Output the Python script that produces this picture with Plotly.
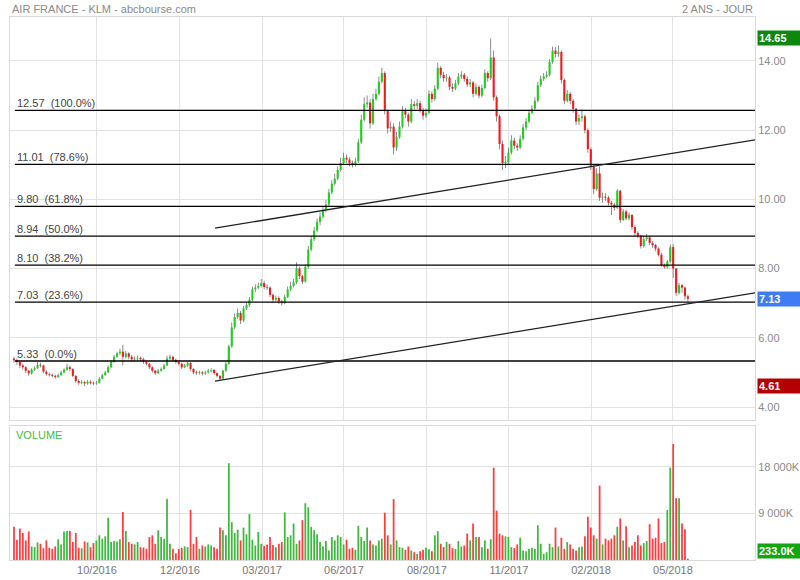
import plotly.graph_objects as go

# ---------------- data ----------------
CLOSE = [5.35, 5.30, 5.20, 5.15, 5.05, 4.97, 5.08, 5.12, 5.22, 5.20,
         5.02, 4.95, 4.93, 4.90, 4.87, 4.92, 5.00, 5.08, 5.15, 5.10,
         4.90, 4.75, 4.70, 4.72, 4.68, 4.73, 4.70, 4.68, 4.70, 4.82,
         4.92, 5.00, 5.15, 5.30, 5.45, 5.55, 5.60, 5.45, 5.55, 5.45,
         5.38, 5.40, 5.42, 5.38, 5.30, 5.25, 5.15, 5.05, 4.98, 5.05,
         5.10, 5.20, 5.40, 5.45, 5.36, 5.30, 5.25, 5.15, 5.20, 5.27,
         5.10, 5.00, 4.98, 5.00, 4.97, 5.00, 5.05, 5.07, 4.98, 4.90,
         4.82, 5.05, 5.25, 5.75, 6.30, 6.60, 6.72, 6.50, 6.85, 6.95,
         7.10, 7.40, 7.45, 7.50, 7.58, 7.47, 7.45, 7.24, 7.10, 7.15,
         7.05, 7.00, 7.18, 7.40, 7.50, 7.60, 8.00, 7.78, 7.62, 8.05,
         8.55, 8.85, 9.10, 9.35, 9.50, 9.70, 9.85, 10.20, 10.45, 10.60,
         10.85, 11.05, 11.20, 11.15, 11.05, 11.00, 11.10, 11.65, 12.30, 12.75,
         12.80, 12.20, 12.90, 13.05, 13.40, 13.65, 12.55, 12.05, 12.10, 11.50,
         11.80, 12.10, 12.55, 12.45, 12.25, 12.75, 12.70, 12.78, 12.58, 12.42,
         12.50, 13.05, 12.90, 13.20, 13.80, 13.60, 13.50, 13.52, 13.25, 13.20,
         13.35, 13.55, 13.60, 13.48, 13.32, 13.38, 13.05, 13.25, 13.00, 13.22,
         13.65, 13.50, 14.10, 12.95, 12.40, 11.60, 11.05, 11.08, 11.35, 11.70,
         11.55, 11.50, 11.75, 12.08, 12.25, 12.50, 12.62, 12.85, 13.30, 13.48,
         13.55, 13.60, 13.97, 14.30, 14.20, 14.26, 13.45, 12.85, 13.05, 12.85,
         12.62, 12.25, 12.35, 12.40, 12.00, 11.45, 10.95, 10.30, 10.75, 10.05,
         10.08, 10.05, 9.90, 9.85, 9.75, 10.25, 9.40, 9.65, 9.45, 9.55,
         9.20, 9.03, 8.95, 8.65, 8.85, 8.90, 8.74, 8.68, 8.58, 8.40,
         8.10, 8.05, 8.20, 8.62, 8.00, 7.30, 7.52, 7.45, 7.20, 7.13]

FIRST_OPEN = 5.40

HIGH = [5.45, 5.40, 5.33, 5.25, 5.18, 5.08, 5.12, 5.18, 5.30, 5.28,
        5.22, 5.06, 5.00, 4.97, 4.94, 4.96, 5.05, 5.12, 5.25, 5.20,
        5.12, 4.92, 4.80, 4.78, 4.76, 4.78, 4.77, 4.74, 4.75, 4.86,
        4.96, 5.05, 5.20, 5.35, 5.50, 5.60, 5.68, 5.80, 5.62, 5.58,
        5.50, 5.46, 5.48, 5.46, 5.42, 5.34, 5.28, 5.18, 5.08, 5.10,
        5.15, 5.25, 5.48, 5.52, 5.48, 5.40, 5.34, 5.28, 5.25, 5.32,
        5.30, 5.12, 5.05, 5.05, 5.04, 5.05, 5.10, 5.12, 5.10, 5.00,
        4.92, 5.08, 5.30, 5.80, 6.45, 6.70, 6.85, 6.78, 6.92, 7.02,
        7.18, 7.48, 7.55, 7.60, 7.70, 7.65, 7.55, 7.48, 7.28, 7.22,
        7.20, 7.10, 7.25, 7.48, 7.62, 7.70, 8.18, 8.05, 7.82, 8.12,
        8.65, 8.95, 9.20, 9.45, 9.62, 9.80, 9.98, 10.30, 10.55, 10.75,
        10.95, 11.20, 11.35, 11.30, 11.22, 11.12, 11.20, 11.75, 12.45, 12.95,
        13.00, 12.90, 13.05, 13.20, 13.55, 13.80, 13.70, 12.60, 12.25, 12.20,
        11.95, 12.25, 12.70, 12.65, 12.50, 12.90, 12.85, 12.90, 12.85, 12.65,
        12.62, 13.15, 13.12, 13.30, 13.95, 13.85, 13.68, 13.62, 13.58, 13.35,
        13.45, 13.65, 13.70, 13.65, 13.55, 13.48, 13.42, 13.35, 13.30, 13.32,
        13.75, 13.70, 14.65, 14.30, 13.00, 12.45, 11.70, 11.25, 11.50, 11.85,
        11.78, 11.62, 11.85, 12.18, 12.35, 12.60, 12.72, 12.95, 13.40, 13.58,
        13.65, 13.70, 14.05, 14.42, 14.40, 14.45, 14.30, 13.50, 13.15, 13.10,
        12.90, 12.65, 12.45, 12.60, 12.45, 12.05, 11.50, 11.00, 10.90, 10.95,
        10.20, 10.18, 10.10, 9.95, 9.90, 10.30, 10.28, 9.72, 9.70, 9.62,
        9.58, 9.25, 9.08, 8.98, 8.95, 9.00, 8.95, 8.80, 8.72, 8.62,
        8.45, 8.15, 8.25, 8.70, 8.70, 8.02, 7.58, 7.56, 7.48, 7.25]

LOW = [5.28, 5.22, 5.12, 5.08, 4.98, 4.90, 4.94, 5.04, 5.10, 5.14,
       4.98, 4.90, 4.88, 4.85, 4.82, 4.84, 4.90, 4.97, 5.05, 5.04,
       4.85, 4.70, 4.64, 4.66, 4.61, 4.64, 4.65, 4.63, 4.64, 4.68,
       4.80, 4.90, 4.98, 5.12, 5.28, 5.42, 5.50, 5.20, 5.40, 5.38,
       5.32, 5.33, 5.35, 5.32, 5.25, 5.20, 5.10, 5.00, 4.93, 4.95,
       5.02, 5.08, 5.18, 5.36, 5.30, 5.25, 5.20, 5.10, 5.12, 5.16,
       5.05, 4.95, 4.93, 4.94, 4.92, 4.93, 4.97, 5.00, 4.93, 4.85,
       4.75, 4.80, 5.02, 5.22, 5.72, 6.25, 6.55, 6.40, 6.45, 6.80,
       6.90, 7.05, 7.32, 7.40, 7.45, 7.40, 7.38, 7.18, 7.02, 7.05,
       6.98, 6.93, 6.97, 7.15, 7.35, 7.45, 7.55, 7.70, 7.55, 7.60,
       8.00, 8.50, 8.80, 9.05, 9.25, 9.45, 9.62, 9.80, 10.15, 10.40,
       10.55, 10.80, 11.00, 11.05, 10.95, 10.92, 10.95, 11.05, 11.60, 12.25,
       12.65, 12.05, 12.15, 12.85, 13.00, 13.35, 12.45, 11.90, 11.95, 11.30,
       11.40, 11.75, 12.05, 12.35, 12.10, 12.20, 12.60, 12.62, 12.50, 12.30,
       12.35, 12.45, 12.80, 12.85, 13.15, 13.50, 13.40, 13.40, 13.15, 13.10,
       13.15, 13.30, 13.48, 13.40, 13.25, 13.25, 12.95, 13.00, 12.92, 12.95,
       13.18, 13.40, 13.45, 12.85, 12.25, 11.45, 10.85, 10.90, 11.00, 11.30,
       11.45, 11.40, 11.45, 11.70, 12.00, 12.20, 12.45, 12.58, 12.80, 13.25,
       13.42, 13.50, 13.55, 13.92, 14.10, 14.12, 13.35, 12.75, 12.80, 12.75,
       12.50, 12.15, 12.15, 12.25, 11.90, 11.35, 10.85, 10.15, 10.25, 9.95,
       9.90, 9.95, 9.82, 9.55, 9.68, 9.72, 9.32, 9.38, 9.40, 9.40,
       9.12, 8.95, 8.88, 8.58, 8.60, 8.80, 8.68, 8.60, 8.50, 8.35,
       8.05, 8.00, 8.00, 8.15, 7.73, 7.20, 7.25, 7.30, 7.10, 7.05]

VOLUME_K = [6390, 3900, 6060, 5200, 3780, 5500, 2600, 2480, 3390, 3130,
            2280, 3780, 2350, 2150, 2610, 3980, 3000, 5480, 5600, 5600,
            3460, 5220, 2350, 2280, 3590, 3390, 2480, 3260, 3780, 4760,
            4110, 4560, 8150, 3460, 3650, 3590, 3980, 9260, 5600, 3460,
            3130, 3000, 3460, 2480, 2410, 2150, 4430, 4760, 3130, 5740,
            4430, 4110, 11800, 3130, 2150, 1300, 2150, 2350, 2610, 2480,
            9650, 3130, 4430, 2150, 2800, 2610, 3000, 2800, 2480, 2150,
            6260, 5740, 4760, 18650, 7300, 5220, 5870, 3780, 6260, 4960,
            8870, 3910, 2800, 5410, 3130, 2740, 3000, 4430, 2870, 2480,
            3130, 3460, 9200, 4430, 4760, 7040, 3130, 3780, 7690, 10950,
            10170, 6390, 5740, 4960, 3460, 2610, 3650, 1830, 4430, 3780,
            4760, 4430, 3000, 3910, 2150, 2350, 1960, 6590, 4430, 3650,
            6260, 3780, 3000, 2800, 3780, 4110, 9130, 4760, 3000, 11740,
            3780, 2480, 2350, 1960, 2610, 1830, 1500, 1170, 1700, 1960,
            2350, 2090, 1700, 4760, 5540, 3130, 2480, 3460, 3130, 2280,
            2150, 3650, 2610, 2800, 5090, 3780, 7040, 4430, 4430, 2480,
            3780, 2150, 4000, 17800, 9520, 5090, 4760, 4560, 4430, 2480,
            2280, 3000, 4300, 1830, 1700, 2150, 2350, 2150, 6700, 3130,
            1170, 1500, 3130, 2480, 6260, 2610, 4300, 2150, 3460, 3000,
            2150, 1830, 2480, 2610, 4560, 8350, 6260, 4760, 4110, 14340,
            3000, 4110, 3780, 4110, 4760, 6390, 8020, 3780, 6520, 2480,
            2800, 3460, 4760, 2800, 3260, 3650, 6910, 4110, 4300, 8020,
            3260, 3460, 9650, 17800, 22360, 11930, 11930, 7040, 5930, 233]

X_TICK_POS = [28.2, 56.4, 84.3, 112.1, 140.3, 168.2, 196.1, 223.9]
X_TICK_TEXT = ["10/2016", "12/2016", "03/2017", "06/2017",
               "08/2017", "11/2017", "02/2018", "05/2018"]

FIB_LEVELS = [5.33, 7.03, 8.10, 8.94, 9.80, 11.01, 12.57]
FIB_PCT = ["0.0%", "23.6%", "38.2%", "50.0%", "61.8%", "78.6%", "100.0%"]

TREND_X = [68.3, 251.8]
TREND_LOW_Y = [4.75, 7.30]
TREND_HIGH_Y = [9.17, 11.72]

PRICE_TICKS = [4, 6, 8, 10, 12, 14]
VOL_TICKS = [9000, 18000]
VOL_TICK_TEXT = ["9 000K", "18 000K"]

MAX_HIGH = 14.65
MIN_LOW = 4.61
LAST_CLOSE = 7.13
LAST_VOL_TEXT = "233.0K"

X_RANGE = [-1.36, 251.8]
Y_RANGE = [3.624, 15.27]
V_RANGE = [0, 25840]

# ---------------- figure ----------------
FONT = "Liberation Sans, Arial, sans-serif"
FS = 11
GREEN = "#22cc22"
RED = "#ee1c1c"
VGREEN = "#3cb93c"
VRED = "#ff3b3b"

n = len(CLOSE)
idx = list(range(n))
OPEN = [FIRST_OPEN] + CLOSE[:-1]
up = [c >= o for o, c in zip(OPEN, CLOSE)]

fig = go.Figure()

# wicks
fig.add_trace(go.Bar(
    x=idx, y=[h - l for h, l in zip(HIGH, LOW)], base=LOW, width=0.26,
    marker=dict(color="#6b6b6b", line=dict(width=0)),
    xaxis="x", yaxis="y", hoverinfo="skip", showlegend=False))
# bodies
fig.add_trace(go.Bar(
    x=idx, y=[c - o for o, c in zip(OPEN, CLOSE)], base=OPEN, width=0.72,
    marker=dict(color=[GREEN if u else RED for u in up], line=dict(width=0)),
    xaxis="x", yaxis="y", hoverinfo="skip", showlegend=False))
# volume
fig.add_trace(go.Bar(
    x=idx, y=VOLUME_K, width=0.6,
    marker=dict(color=[VGREEN if u else VRED for u in up], line=dict(width=0)),
    xaxis="x2", yaxis="y2", hoverinfo="skip", showlegend=False))

shapes = []
annotations = []
for lvl, pct in zip(FIB_LEVELS, FIB_PCT):
    shapes.append(dict(type="line", xref="x", yref="y", x0=0.3, x1=X_RANGE[1],
                       y0=lvl, y1=lvl, line=dict(color="#000000", width=1.3), layer="above"))
    annotations.append(dict(xref="x", yref="y", x=0.3, y=lvl, xanchor="left", yanchor="bottom",
                            text=f"{lvl:.2f}&nbsp;&nbsp;({pct})", showarrow=False,
                            font=dict(family=FONT, size=FS, color="#444444"), yshift=-1))
for ty in (TREND_LOW_Y, TREND_HIGH_Y):
    shapes.append(dict(type="line", xref="x", yref="y", x0=TREND_X[0], x1=TREND_X[1],
                       y0=ty[0], y1=ty[1], line=dict(color="#222222", width=1.3), layer="above"))

def box(text, y, yref, color, yanchor="middle"):
    return dict(xref="paper", yref=yref, x=1, y=y, xanchor="left", yanchor=yanchor, xshift=2,
                text=f"<b>{text}</b>", showarrow=False, bgcolor=color, width=40, align="left",
                borderpad=1, font=dict(family=FONT, size=FS, color="#ffffff"))

annotations += [
    box(f"{MAX_HIGH:.2f}", MAX_HIGH, "y", "#0e870e"),
    box(f"{LAST_CLOSE:.2f}", LAST_CLOSE, "y", "#3d7cf2"),
    box(f"{MIN_LOW:.2f}", MIN_LOW, "y", "#b30000"),
    box(LAST_VOL_TEXT, VOLUME_K[-1], "y2", "#12a612", yanchor="bottom"),
    dict(xref="paper", yref="paper", x=0, y=1, xanchor="left", yanchor="middle", yshift=8,
         text="AIR FRANCE - KLM - abcbourse.com", showarrow=False,
         font=dict(family=FONT, size=FS, color="#8a8a8a")),
    dict(xref="paper", yref="paper", x=1, y=1, xanchor="right", yanchor="middle", yshift=8,
         text="2 ANS - JOUR", showarrow=False,
         font=dict(family=FONT, size=FS, color="#8a8a8a")),
    dict(xref="paper", yref="paper", x=0, y=0.2468, xanchor="left", yanchor="top", xshift=4, yshift=-1,
         text="VOLUME", showarrow=False, font=dict(family=FONT, size=FS, color="#44bb44")),
]

axis_common = dict(showline=True, mirror=True, linecolor="#d9d9d9", linewidth=1,
                   gridcolor="#e2e2e2", gridwidth=1, zeroline=False, ticks="", automargin=False)

fig.update_layout(
    width=800, height=580,
    margin=dict(l=10, r=45, t=17, b=20, autoexpand=False),
    paper_bgcolor="#ffffff", plot_bgcolor="#ffffff",
    barmode="overlay", showlegend=False, hovermode=False,
    font=dict(family=FONT, size=FS, color="#808080"),
    xaxis=dict(domain=[0, 1], anchor="y", range=X_RANGE, tickvals=X_TICK_POS,
               showticklabels=False, showgrid=True, **axis_common),
    xaxis2=dict(domain=[0, 1], anchor="y2", range=X_RANGE, matches="x", tickvals=X_TICK_POS,
                ticktext=X_TICK_TEXT, showgrid=True,
                tickfont=dict(family=FONT, size=FS, color="#777777"), **axis_common),
    yaxis=dict(domain=[0.2578, 1], anchor="x", side="right", range=Y_RANGE,
               tickvals=PRICE_TICKS, tickformat=".2f", showgrid=True,
               tickfont=dict(family=FONT, size=FS, color="#8a8a8a"), **axis_common),
    yaxis2=dict(domain=[0, 0.2468], anchor="x2", side="right", range=V_RANGE,
                tickvals=VOL_TICKS, ticktext=VOL_TICK_TEXT, showgrid=True,
                tickfont=dict(family=FONT, size=FS, color="#8a8a8a"), **axis_common),
    shapes=shapes, annotations=annotations,
)

# place the 800x580 figure at the page's top-left corner (no default body margin)
fig.write_html("out.html", config={"displayModeBar": False, "staticPlot": True},
               post_script="document.body.style.margin='0px';")
